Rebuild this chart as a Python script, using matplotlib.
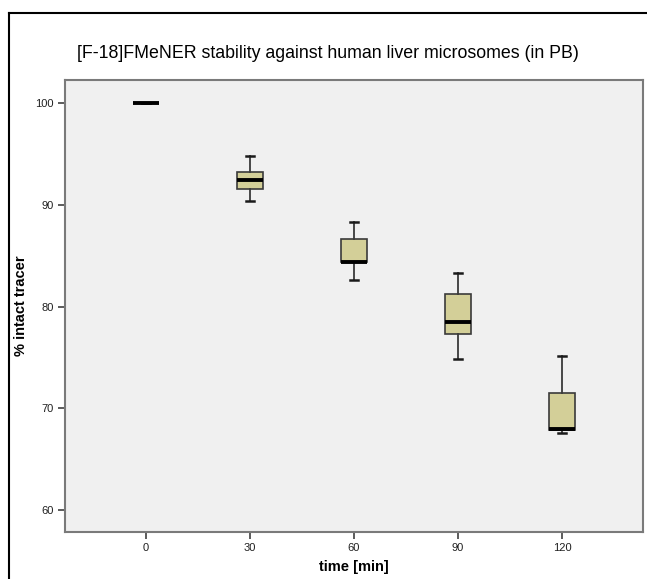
import matplotlib
matplotlib.use("Agg")
import matplotlib.pyplot as plt
from matplotlib.lines import Line2D

# values
times = ["0", "30", "60", "90", "120"]
whis_low = [100.0, 90.4, 82.6, 74.8, 67.6]
q1 = [100.0, 91.5, 84.35, 77.3, 67.85]
medians = [100.0, 92.4, 84.4, 78.45, 67.95]
q3 = [100.0, 93.25, 86.65, 81.25, 71.55]
whis_high = [100.0, 94.8, 88.3, 83.3, 75.15]

plt.rcParams["font.family"] = ["Liberation Sans", "DejaVu Sans"]

fig = plt.figure(figsize=(6.47, 5.79), dpi=100)
ax = fig.add_axes([65 / 647, 1 - 532 / 579, 578 / 647, 452 / 579])
ax.set_facecolor("#f0f0f0")

stats = []
for i, t in enumerate(times):
    stats.append({
        "label": t,
        "whislo": whis_low[i],
        "q1": q1[i],
        "med": medians[i],
        "q3": q3[i],
        "whishi": whis_high[i],
        "fliers": [],
    })

ax.bxp(stats, positions=range(len(times)), widths=0.25, patch_artist=True,
       showfliers=False,
       boxprops=dict(facecolor="#d3cf98", edgecolor="#3a3a3a", linewidth=1.2),
       medianprops=dict(color="black", linewidth=2.8, solid_capstyle="butt"),
       whiskerprops=dict(color="#3a3a3a", linewidth=1.3),
       capprops=dict(color="#1a1a1a", linewidth=1.8),
       capwidths=0.07)

ax.set_xlim(-0.78, 4.78)
ax.set_ylim(57.85, 102.25)
ax.set_yticks([60, 70, 80, 90, 100])
ax.set_xticks(range(len(times)))
ax.set_xticklabels(times)
ax.tick_params(direction="out", length=5, width=1.2, color="#404040",
               labelsize=8, labelcolor="#202020", pad=3)

for s in ax.spines.values():
    s.set_color("#7a7a7a")
    s.set_linewidth(1.5)

ax.set_xlabel("time [min]", fontsize=10.5, fontweight="bold", labelpad=5)
ax.set_ylabel("% intact tracer", fontsize=10.5, fontweight="bold")
ax.yaxis.set_label_coords((28 - 65) / 578, 0.5)
fig.text(328 / 647, 1 - 53 / 579,
         "[F-18]FMeNER stability against human liver microsomes (in PB)",
         ha="center", va="center", fontsize=12.8)

# outer chart frame, cut by the image edge on right and bottom
fig.add_artist(Line2D([9 / 647, 9 / 647], [0, 1 - 13 / 579],
                      transform=fig.transFigure, color="black", linewidth=1.5))
fig.add_artist(Line2D([9 / 647, 1], [1 - 13 / 579, 1 - 13 / 579],
                      transform=fig.transFigure, color="black", linewidth=1.5))

fig.savefig("out.png", dpi=100)
